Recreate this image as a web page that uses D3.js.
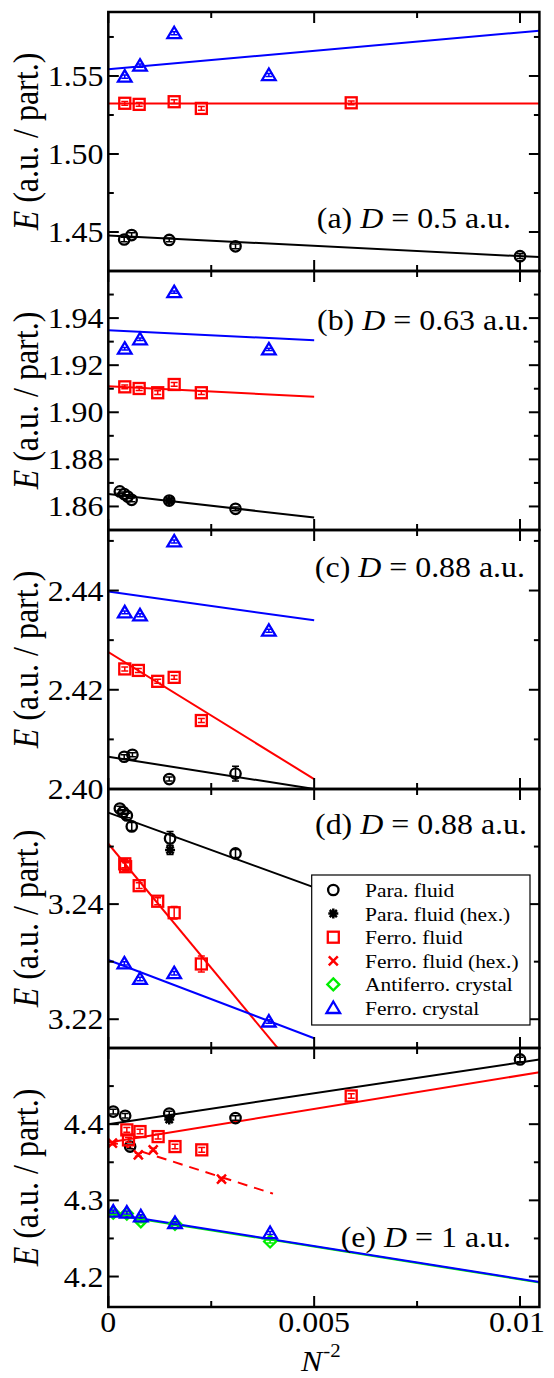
<!DOCTYPE html>
<html><head><meta charset="utf-8">
<script src="https://cdn.jsdelivr.net/npm/d3@7"></script>
<style>
body{margin:0;background:#fff}
svg{display:block}
text{font-family:"Liberation Serif","Times New Roman",serif;fill:#000}
</style>
</head><body>
<svg id="c" width="554" height="1378"></svg>
<script>
// ---------- data ----------
const xMax = 0.010471;
const xMajor = [0, 0.005, 0.01];
const xMajorLabels = ["0", "0.005", "0.01"];
const xMinor = [0.0025, 0.0075];

const panelLetters = ["a", "b", "c", "d", "e"];
const panelD = ["0.5", "0.63", "0.88", "0.88", "1"];

const legendLabels = ["Para. fluid", "Para. fluid (hex.)", "Ferro. fluid", "Ferro. fluid (hex.)", "Antiferro. crystal", "Ferro. crystal"];

// each point: [N^-2, E, error]
// (a) D = 0.5
const aDomain = [1.425, 1.591];
const aMajor = [1.45, 1.50, 1.55];
const aMajorLabels = ["1.45", "1.50", "1.55"];
const aMinor = [1.475, 1.525, 1.575];
const aPara = [[0.000386,1.4452,0.0015],[0.000567,1.4480,0.0015],[0.00148,1.4449,0.0012],[0.00309,1.4408,0.0015],[0.01,1.4345,0.0015]];
const aFerroFluid = [[0.0004,1.5325,0.0012],[0.00075,1.5318,0.0012],[0.0016,1.5335,0.0012],[0.00226,1.5292,0.0012],[0.0059,1.5328,0.0012]];
const aFerroCrystal = [[0.0004,1.5496,0.001],[0.00077,1.5566,0.001],[0.0016,1.5774,0.001],[0.0039,1.5506,0.001]];
// fits: [intercept, slope, xFrom, xTo]
const aFitPara = [1.4477, -1.318, 0, xMax];
const aFitFerroFluid = [1.5323, 0, 0, xMax];
const aFitFerroCrystal = [1.5543, 2.36, 0, xMax];

// (b) D = 0.63
const bDomain = [1.85, 1.96];
const bMajor = [1.86, 1.88, 1.90, 1.92, 1.94];
const bMajorLabels = ["1.86", "1.88", "1.90", "1.92", "1.94"];
const bMinor = [1.87, 1.89, 1.91, 1.93, 1.95];
const bPara = [[0.00028,1.8664,0.0008],[0.000386,1.8653,0.0008],[0.00047,1.8642,0.0008],[0.000567,1.8628,0.0008],[0.00148,1.8625,0.0008],[0.00309,1.8590,0.0008]];
const bParaHex = [[0.00148,1.8625,0.0008]];
const bFerroFluid = [[0.0004,1.9108,0.0008],[0.00075,1.9101,0.0008],[0.0012,1.9083,0.0008],[0.0016,1.9118,0.0008],[0.00226,1.9083,0.0008]];
const bFerroCrystal = [[0.0004,1.9270,0.0005],[0.00077,1.9310,0.0005],[0.0016,1.9510,0.0005],[0.0039,1.9267,0.0005]];
const bFitPara = [1.8653, -2.0, 0, 0.005];
const bFitFerroFluid = [1.9111, -0.9, 0, 0.005];
const bFitFerroCrystal = [1.9348, -0.84, 0, 0.005];

// (c) D = 0.88
const cDomain = [2.40, 2.4522];
const cMajor = [2.40, 2.42, 2.44];
const cMajorLabels = ["2.40", "2.42", "2.44"];
const cMinor = [2.41, 2.43, 2.45];
const cPara = [[0.000386,2.4065,0.0004],[0.000586,2.4069,0.0004],[0.00148,2.4020,0.0004],[0.00309,2.4031,0.0015]];
const cFerroFluid = [[0.0004,2.4242,0.0004],[0.00073,2.4239,0.0004],[0.0012,2.4217,0.0004],[0.0016,2.4225,0.0004],[0.00226,2.4138,0.0004]];
const cFerroCrystal = [[0.0004,2.4356,0.0003],[0.00077,2.4350,0.0003],[0.0016,2.4499,0.0003],[0.0039,2.4319,0.0003]];
const cFitPara = [2.4065, -1.3, 0, 0.005];
const cFitFerroFluid = [2.4276, -5.12, 0, 0.005];
const cFitFerroCrystal = [2.4398, -1.16, 0, 0.005];

// (d) D = 0.88
const dDomain = [3.215, 3.26];
const dMajor = [3.22, 3.24];
const dMajorLabels = ["3.22", "3.24"];
const dMinor = [3.23, 3.25];
const dPara = [[0.00028,3.2566,0.0004],[0.00036,3.2560,0.0004],[0.00045,3.2554,0.0004],[0.00057,3.2535,0.0007],[0.0015,3.2514,0.0012],[0.00309,3.2488,0.0007]];
const dParaHex = [[0.0015,3.2494,0.0008]];
const dFerroFluid = [[0.0004,3.2470,0.0007],[0.00042,3.2465,0.0007],[0.00075,3.2432,0.0005],[0.0012,3.2405,0.0006],[0.0016,3.2385,0.0011],[0.00226,3.2296,0.0014]];
const dFerroCrystal = [[0.00039,3.2297,0.0003],[0.00077,3.2270,0.0003],[0.0016,3.2280,0.0003],[0.0039,3.2196,0.0003]];
const dFitPara = [3.2559, -2.6, 0, 0.005];
const dFitFerroFluid = [3.2505, -8.63, 0, 0.005];
const dFitFerroCrystal = [3.2303, -2.72, 0, 0.005];

// (e) D = 1
const eDomain = [4.16, 4.5];
const eMajor = [4.2, 4.3, 4.4];
const eMajorLabels = ["4.2", "4.3", "4.4"];
const eMinor = [4.25, 4.35, 4.45];
const ePara = [[0.00012,4.4165,0.003],[0.00041,4.4110,0.003],[0.00053,4.3706,0.003],[0.00148,4.4140,0.003],[0.00309,4.4080,0.003],[0.01,4.4850,0.003]];
const eParaHex = [[0.00148,4.4060,0.003]];
const eFerroFluid = [[0.00045,4.3925,0.003],[0.00049,4.3794,0.003],[0.00077,4.3903,0.003],[0.00121,4.3837,0.003],[0.00162,4.3706,0.003],[0.00227,4.3663,0.003],[0.0059,4.4370,0.003]];
const eFerroFluidHex = [[0.0001,4.3750,0.002],[0.00073,4.3598,0.002],[0.00109,4.3663,0.002],[0.00275,4.3280,0.002]];
const eAntiferroCrystal = [[0.00012,4.2838,0.002],[0.00045,4.2826,0.002],[0.00079,4.2725,0.002],[0.00162,4.2692,0.002],[0.00393,4.2460,0.002]];
const eFerroCrystal = [[0.00012,4.2853,0.002],[0.00045,4.2840,0.002],[0.00079,4.2790,0.002],[0.00162,4.2703,0.002],[0.00393,4.2571,0.002]];
const eFitPara = [4.400, 8.1, 0, xMax];
const eFitFerroFluid = [4.376, 8.8, 0, xMax];
const eFitFerroFluidHex = [4.378, -17.3, 0, 0.004];
const eFitAntiferroCrystal = [4.2822, -8.6, 0, xMax];
const eFitFerroCrystal = [4.283, -8.6, 0, xMax];

// ---------- layout / style ----------
const SX = 1.1;
const plotL = 108.3, plotR = 539.4;
const panelTop = 12, panelH = 259;
const styles = {
  para:          {color:"#000000", shape:"circle"},
  paraHex:       {color:"#000000", shape:"star"},
  ferroFluid:    {color:"#ff0000", shape:"square"},
  ferroFluidHex: {color:"#ff0000", shape:"x"},
  antiferro:     {color:"#00ee00", shape:"diamond"},
  ferroCrystal:  {color:"#0000ff", shape:"triangle"}
};
const legendKeys = ["para","paraHex","ferroFluid","ferroFluidHex","antiferro","ferroCrystal"];

const panels = [
  {domain:aDomain, major:aMajor, majorLabels:aMajorLabels, minor:aMinor,
   series:[["para",aPara],["ferroFluid",aFerroFluid],["ferroCrystal",aFerroCrystal]],
   fits:[["para",aFitPara],["ferroFluid",aFitFerroFluid],["ferroCrystal",aFitFerroCrystal]],
   labelPos:[511, 216]},
  {domain:bDomain, major:bMajor, majorLabels:bMajorLabels, minor:bMinor,
   series:[["para",bPara],["paraHex",bParaHex],["ferroFluid",bFerroFluid],["ferroCrystal",bFerroCrystal]],
   fits:[["para",bFitPara],["ferroFluid",bFitFerroFluid],["ferroCrystal",bFitFerroCrystal]],
   labelPos:[529, 59]},
  {domain:cDomain, major:cMajor, majorLabels:cMajorLabels, minor:cMinor,
   series:[["para",cPara],["ferroFluid",cFerroFluid],["ferroCrystal",cFerroCrystal]],
   fits:[["para",cFitPara],["ferroFluid",cFitFerroFluid],["ferroCrystal",cFitFerroCrystal]],
   labelPos:[525, 47]},
  {domain:dDomain, major:dMajor, majorLabels:dMajorLabels, minor:dMinor,
   series:[["para",dPara],["paraHex",dParaHex],["ferroFluid",dFerroFluid],["ferroCrystal",dFerroCrystal]],
   fits:[["para",dFitPara],["ferroFluid",dFitFerroFluid],["ferroCrystal",dFitFerroCrystal]],
   labelPos:[527, 45]},
  {domain:eDomain, major:eMajor, majorLabels:eMajorLabels, minor:eMinor,
   series:[["para",ePara],["paraHex",eParaHex],["ferroFluid",eFerroFluid],["ferroFluidHex",eFerroFluidHex],["antiferro",eAntiferroCrystal],["ferroCrystal",eFerroCrystal]],
   fits:[["para",eFitPara],["ferroFluid",eFitFerroFluid],["ferroFluidHex",eFitFerroFluidHex],["antiferro",eFitAntiferroCrystal],["ferroCrystal",eFitFerroCrystal]],
   labelPos:[511, 199]}
];

const svg = d3.select("#c");
const x = d3.scaleLinear().domain([0, xMax]).range([plotL, plotR]);

function addText(g, xp, yp, anchor, size) {
  return g.append("text")
    .attr("transform", `translate(${xp},${yp}) scale(${SX},1)`)
    .attr("text-anchor", anchor).attr("font-size", size);
}

function marker(g, shape, color, cx, cy) {
  const s = g.append("g").attr("transform", `translate(${cx},${cy})`)
    .attr("fill", "none").attr("stroke", color).attr("stroke-width", 2.3);
  if (shape === "circle") s.append("circle").attr("r", 5.2);
  else if (shape === "square") s.append("rect").attr("x", -5.5).attr("y", -5.5).attr("width", 11).attr("height", 11);
  else if (shape === "triangle") s.append("path").attr("d", "M0,-6.5L6.8,5L-6.8,5Z");
  else if (shape === "diamond") s.append("path").attr("d", "M0,-6L6,0L0,6L-6,0Z");
  else if (shape === "x") s.append("path").attr("d", "M-4.5,-4.5L4.5,4.5M-4.5,4.5L4.5,-4.5").attr("stroke-width", 2.5);
  else if (shape === "star") {
    s.append("path").attr("stroke-width", 2.5)
      .attr("d", "M0,-5L0,5M-5,0L5,0M-3.6,-3.6L3.6,3.6M-3.6,3.6L3.6,-3.6");
  }
}

panels.forEach((p, i) => {
  const top = panelTop + i * panelH, bot = top + panelH;
  const y = d3.scaleLinear().domain(p.domain).range([bot, top]);
  const g = svg.append("g");
  const clipId = "clip" + i;
  svg.append("clipPath").attr("id", clipId).append("rect")
    .attr("x", plotL).attr("y", top).attr("width", plotR - plotL).attr("height", panelH);
  const inner = g.append("g").attr("clip-path", `url(#${clipId})`);

  // fit lines
  p.fits.forEach(([key, f]) => {
    const [b, m, x0, x1] = f;
    inner.append("path")
      .datum([x0, x1])
      .attr("d", d3.line().x(d => x(d)).y(d => y(b + m * d)))
      .attr("fill", "none").attr("stroke", styles[key].color).attr("stroke-width", 2)
      .attr("stroke-dasharray", key === "ferroFluidHex" ? "10,7" : null);
  });

  // points with error bars
  p.series.forEach(([key, pts]) => {
    const st = styles[key];
    pts.forEach(([px, py, err]) => {
      const cx = x(px), cy = y(py);
      const e = inner.append("g").attr("stroke", st.color).attr("stroke-width", 1.5);
      e.append("line").attr("x1", cx).attr("x2", cx).attr("y1", y(py - err)).attr("y2", y(py + err));
      e.append("line").attr("x1", cx - 3.5).attr("x2", cx + 3.5).attr("y1", y(py - err)).attr("y2", y(py - err));
      e.append("line").attr("x1", cx - 3.5).attr("x2", cx + 3.5).attr("y1", y(py + err)).attr("y2", y(py + err));
      marker(inner, st.shape, st.color, cx, cy);
    });
  });

  // frame
  g.append("rect").attr("x", plotL).attr("y", top).attr("width", plotR - plotL).attr("height", panelH)
    .attr("fill", "none").attr("stroke", "#000").attr("stroke-width", 2.5);

  const tk = g.append("g").attr("stroke", "#000").attr("stroke-width", 2);
  p.major.forEach(v => {
    const yy = y(v);
    tk.append("line").attr("x1", plotL).attr("x2", plotL + 10.5).attr("y1", yy).attr("y2", yy);
    tk.append("line").attr("x1", plotR).attr("x2", plotR - 10.5).attr("y1", yy).attr("y2", yy);
  });
  p.minor.forEach(v => {
    const yy = y(v);
    tk.append("line").attr("x1", plotL).attr("x2", plotL + 5.5).attr("y1", yy).attr("y2", yy);
    tk.append("line").attr("x1", plotR).attr("x2", plotR - 5.5).attr("y1", yy).attr("y2", yy);
  });
  xMajor.forEach(v => {
    const xx = x(v);
    tk.append("line").attr("x1", xx).attr("x2", xx).attr("y1", top).attr("y2", top + 11);
    tk.append("line").attr("x1", xx).attr("x2", xx).attr("y1", bot).attr("y2", bot - 11);
  });
  xMinor.forEach(v => {
    const xx = x(v);
    tk.append("line").attr("x1", xx).attr("x2", xx).attr("y1", top).attr("y2", top + 6);
    tk.append("line").attr("x1", xx).attr("x2", xx).attr("y1", bot).attr("y2", bot - 6);
  });

  // y tick labels
  p.major.forEach((v, j) => {
    addText(g, 103.5, y(v) + 10, "end", 29).text(p.majorLabels[j]);
  });

  // y axis title
  const yt = g.append("text")
    .attr("transform", `translate(37.5,${top + panelH / 2}) scale(${SX},1) rotate(-90)`)
    .attr("text-anchor", "middle").attr("font-size", 32);
  yt.append("tspan").attr("font-style", "italic").text("E");
  yt.append("tspan").text(" (a.u. / part.)");

  // panel label
  const lt = addText(g, p.labelPos[0], top + p.labelPos[1], "end", 29);
  lt.append("tspan").text(`(${panelLetters[i]}) `);
  lt.append("tspan").attr("font-style", "italic").text("D");
  lt.append("tspan").text(` = ${panelD[i]} a.u.`);

  // legend in panel (d)
  if (i === 3) {
    const lg = svg.append("g");
    lg.append("rect").attr("x", 311.7).attr("y", 875).attr("width", 218.3).attr("height", 150)
      .attr("fill", "#fff").attr("stroke", "#000").attr("stroke-width", 1.2);
    legendKeys.forEach((k, j) => {
      const cy = 890 + j * 23.6;
      marker(lg, styles[k].shape, styles[k].color, 333.3, cy);
      addText(lg, 365, cy + 7, "start", 19.5).text(legendLabels[j]);
    });
  }
});

// x axis labels on the bottom panel
const xBot = panelTop + 5 * panelH;
xMajor.forEach((v, j) => {
  addText(svg, x(v) - (j === 2 ? 3 : 0), xBot + 25, "middle", 29).text(xMajorLabels[j]);
});
const xt = addText(svg, 301, 1371, "start", 29);
xt.append("tspan").attr("font-style", "italic").text("N");
xt.append("tspan").attr("font-size", 19).attr("dx", 1).attr("dy", -14).text("-2");
</script>
</body></html>
